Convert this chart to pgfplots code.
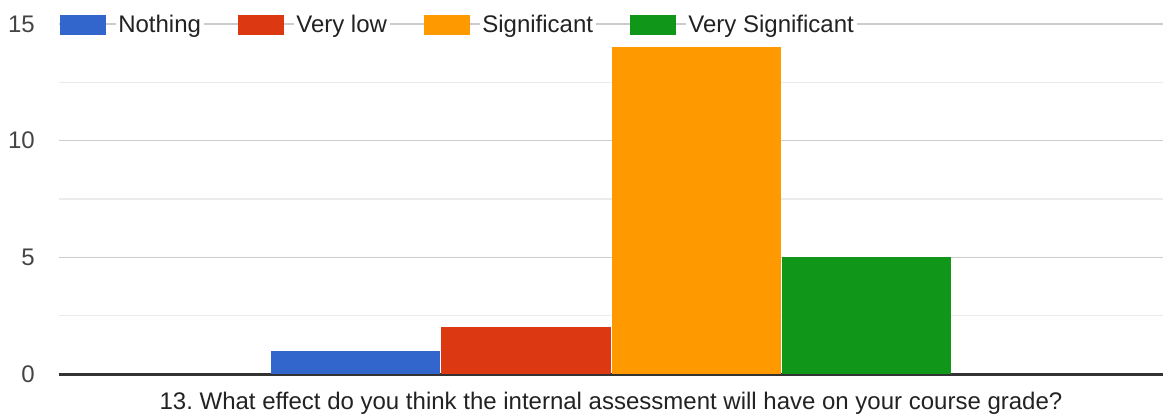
\documentclass[border=0pt]{standalone}
\usepackage{pgfplots}
\pgfplotsset{compat=1.18}
\usepackage{fontspec}
\setmainfont{Liberation Sans}
\frenchspacing
\definecolor{cblue}{HTML}{3366CC}
\definecolor{cred}{HTML}{DC3912}
\definecolor{corange}{HTML}{FF9900}
\definecolor{cgreen}{HTML}{109618}
\definecolor{majgrid}{HTML}{CCCCCC}
\definecolor{mingrid}{HTML}{EBEBEB}
\definecolor{basecol}{HTML}{333333}
\definecolor{ticktext}{HTML}{444444}
\definecolor{labtext}{HTML}{222222}
\begin{document}
\begin{tikzpicture}
\path[use as bounding box] (0pt,0pt) rectangle (874.5pt,313.5pt);
\begin{axis}[
  at={(44.25pt,33pt)}, anchor=south west,
  scale only axis, width=828pt, height=262.5pt,
  xmin=-1, xmax=1, ymin=0, ymax=15,
  xtick=\empty,
  ytick={0,5,10,15},
  minor ytick={2.5,7.5,12.5},
  ymajorgrids, yminorgrids,
  major grid style={color=majgrid, line width=1.2pt},
  minor grid style={color=mingrid, line width=1pt},
  extra y ticks={0}, extra y tick labels={},
  extra y tick style={major grid style={color=basecol, line width=2.25pt}, grid style={color=basecol, line width=2.25pt}},
  axis line style={draw=none},
  major tick length=0pt, minor tick length=0pt,
  tick style={draw=none},
  /pgf/number format/assume math mode=true,
  yticklabel style={font=\fontsize{18pt}{21pt}\selectfont, text=ticktext, inner xsep=0pt, xshift=-18pt},
  xlabel={13.\ What effect do you think the internal assessment will have on your course grade?},
  xlabel style={at={(axis description cs:0.5,0)}, anchor=center, yshift=-22pt, font=\fontsize{18pt}{21pt}\selectfont, text=labtext},
  ybar=0.75pt, bar width=127pt,
  legend columns=-1,
  legend style={at={(rel axis cs:0,1)}, anchor=west, xshift=0.75pt, yshift=-0.75pt, draw=none, fill=none, inner sep=0pt,
    font=\fontsize{18pt}{21pt}\selectfont, text=labtext,
    /tikz/every odd column/.append style={column sep=7pt},
    /tikz/every even column/.append style={column sep=26pt},
    nodes={fill=white, inner xsep=2pt, inner ysep=1pt}},
  legend image code/.code={\fill[#1] (0pt,-7.5pt) rectangle (34.5pt,7.5pt);},
]
\addplot[fill=cblue, draw=none] coordinates {(0,1)};
\addplot[fill=cred, draw=none] coordinates {(0,2)};
\addplot[fill=corange, draw=none] coordinates {(0,14)};
\addplot[fill=cgreen, draw=none] coordinates {(0,5)};
\legend{Nothing, Very low, Significant, Very Significant}
\end{axis}
\end{tikzpicture}
\end{document}
